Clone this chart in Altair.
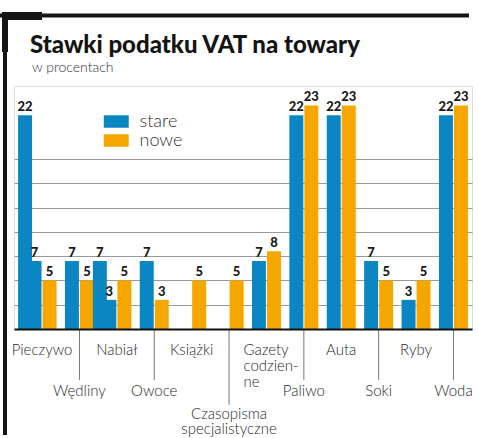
import altair as alt
import pandas as pd

# ---- data ----
categories = ["Pieczywo", "Wędliny", "Nabiał", "Owoce", "Książki",
              "Czasopisma specjalistyczne", "Gazety codzienne", "Paliwo",
              "Auta", "Soki", "Ryby", "Woda"]
tick_labels = ["Pieczywo", "Wędliny", "Nabiał", "Owoce", "Książki",
               "Czasopisma\nspecjalistyczne", "Gazety\ncodzien-\nne", "Paliwo",
               "Auta", "Soki", "Ryby", "Woda"]
stare = [7, 7, 3, 7, None, None, 7, 22, 22, 7, 3, 22]
nowe = [5, 5, 5, 3, 5, 5, 8, 23, 23, 5, 5, 23]
# extra (overlapping) blue bars drawn in the reference
stare_extra_cat = ["Pieczywo", "Nabiał"]
stare_extra_val = [22, 7]
series = ["stare", "nowe"]
colors = ["#0a86c3", "#f5a700"]
grid_values = [2.5, 5, 7.5, 10, 12.5, 15, 17.5]
title_text = "Stawki podatku VAT na towary"
subtitle_text = "w procentach"

rows = []
for c, s, n in zip(categories, stare, nowe):
    if s is not None:
        rows.append({"cat": c, "series": "stare", "value": s})
    rows.append({"cat": c, "series": "nowe", "value": n})
df = pd.DataFrame(rows)
extra = pd.DataFrame({"cat": stare_extra_cat, "series": "stare", "value": stare_extra_val})

lab_rows = []
for i, (c, l) in enumerate(zip(categories, tick_labels)):
    level = 0 if i % 2 == 0 else (2 if "\n" in l else 1)
    lab_rows.append({"cat": c, "label": l, "level": level, "multi": "\n" in l})
labels = pd.DataFrame(lab_rows)

LABEL_FONT = "Lato"

xscale = alt.Scale(domain=categories, paddingInner=0.2246, paddingOuter=0.2353, align=0.77)
X = alt.X("cat:N", scale=xscale, sort=categories,
          axis=alt.Axis(labels=False, ticks=False, title=None, domainColor="#111",
                        domainWidth=2, zindex=1, grid=False))
Y = alt.Y("value:Q", scale=alt.Scale(domain=[0, 25], nice=False, zero=True),
          axis=alt.Axis(values=grid_values, grid=True, gridColor="#999999", gridWidth=1,
                        labels=False, ticks=False, domain=False, title=None))
XO = alt.XOffset("series:N", sort=series, scale=alt.Scale(domain=series, paddingInner=0.07))
COLOR = alt.Color("series:N", scale=alt.Scale(domain=series, range=colors),
                  legend=alt.Legend(orient="none", legendX=93.25, legendY=26.5, title=None,
                                    symbolType="M-2,-1H2V1H-2Z", symbolSize=156,
                                    symbolStrokeWidth=0, symbolOpacity=1,
                                    labelFont=LABEL_FONT, labelFontSize=18, labelFontWeight=300,
                                    labelColor="#333", labelOffset=14.25, rowPadding=1,
                                    padding=0))

bars = alt.Chart(df).mark_bar().encode(x=X, xOffset=XO, y=Y, color=COLOR)
bar_text = alt.Chart(df).mark_text(font=LABEL_FONT, fontSize=13, fontWeight=900,
                                   baseline="alphabetic", dy=-4, color="#1a1a1a").encode(
    x=X, xOffset=XO, y=Y, text="value:Q")

extra_bars = alt.Chart(extra).mark_bar(width=14, xOffset=-17).encode(x=X, y=Y, color=COLOR)
extra_text = alt.Chart(extra).mark_text(font=LABEL_FONT, fontSize=13, fontWeight=900,
                                        baseline="alphabetic", dy=-4, dx=-17,
                                        color="#1a1a1a").encode(x=X, y=Y, text="value:Q")

lab_style = dict(font=LABEL_FONT, fontSize=15, fontWeight=300, color="#2a2a2a",
                 baseline="alphabetic", lineBreak="\n", lineHeight=16)
lab0 = alt.Chart(labels).transform_filter("datum.level == 0 && !datum.multi").mark_text(
    align="center", **lab_style).encode(x=X, y=alt.value(269), text="label:N")
lab0m = alt.Chart(labels).transform_filter("datum.level == 0 && datum.multi").mark_text(
    align="left", dx=-23, **lab_style).encode(x=X, y=alt.value(269), text="label:N")
lab1 = alt.Chart(labels).transform_filter("datum.level == 1").mark_text(
    align="center", **lab_style).encode(x=X, y=alt.value(310), text="label:N")
lab2 = alt.Chart(labels).transform_filter("datum.level == 2").mark_text(
    align="center", **{**lab_style, "lineHeight": 15}).encode(x=X, y=alt.value(333), text="label:N")

tick1 = alt.Chart(labels).transform_filter("datum.level == 1").mark_rule(
    color="#777", strokeWidth=1).encode(x=X, y=alt.value(243), y2=alt.value(294))
tick2 = alt.Chart(labels).transform_filter("datum.level == 2").mark_rule(
    color="#777", strokeWidth=1).encode(x=X, y=alt.value(243), y2=alt.value(319))

one = pd.DataFrame({"title": [title_text], "subtitle": [subtitle_text]})
title = alt.Chart(one).mark_text(font="Lato", fontSize=24, fontWeight=900, color="#141414",
                                 align="left", baseline="alphabetic").encode(
    x=alt.value(16), y=alt.value(-33), text="title:N")
subtitle = alt.Chart(one).mark_text(font="Lato", fontSize=14, fontWeight=300, color="#333",
                                    align="left", baseline="alphabetic").encode(
    x=alt.value(18), y=alt.value(-14), text="subtitle:N")

frame_top = alt.Chart(one).mark_rule(color="#151515", strokeWidth=4).encode(
    x=alt.value(-14), x2=alt.value(455), y=alt.value(-70.5))
frame_block = alt.Chart(one).mark_rule(color="#151515", strokeWidth=8).encode(
    x=alt.value(-12), x2=alt.value(28), y=alt.value(-70))
frame_left_thick = alt.Chart(one).mark_rule(color="#151515", strokeWidth=6).encode(
    x=alt.value(-9), y=alt.value(-74), y2=alt.value(-34))
frame_left = alt.Chart(one).mark_rule(color="#151515", strokeWidth=4).encode(
    x=alt.value(-9), y=alt.value(-74), y2=alt.value(349))

chart = alt.layer(
    bars, extra_bars, bar_text, extra_text,
    tick1, tick2, lab0, lab0m, lab1, lab2,
    title, subtitle,
    frame_top, frame_block, frame_left_thick, frame_left,
).properties(
    width=458, height=243,
    autosize=alt.AutoSizeParams(type="none"),
    padding={"left": 14, "top": 86, "right": 7, "bottom": 109},
).configure_view(stroke=None).configure(background="white")

chart.save("out.html", embed_options={"renderer": "svg", "actions": False})
